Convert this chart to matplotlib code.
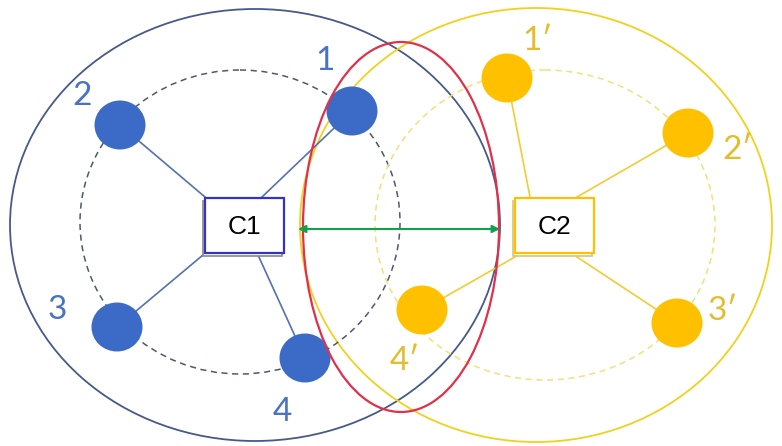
import matplotlib
matplotlib.use("Agg")
import matplotlib.pyplot as plt
from matplotlib.patches import Ellipse, Rectangle

# ---- data (pixel coordinates of the diagram) ----
blue_labels = ["1", "2", "3", "4"]
blue_node_x = [352, 120, 117, 305]
blue_node_y = [111, 125, 327, 358]
blue_label_x = [325, 82, 57, 282]
blue_label_y = [61, 96, 310, 412]
blue_anchor_x = [262, 205, 203, 258]
blue_anchor_y = [197, 197, 255, 255]

yellow_labels = ["1\u2032", "2\u2032", "3\u2032", "4\u2032"]
yellow_node_x = [507, 688, 677, 422]
yellow_node_y = [78, 133, 323, 310]
yellow_label_x = [537, 738, 723, 405]
yellow_label_y = [41, 150, 311, 361]
yellow_anchor_x = [530, 577, 577, 515]
yellow_anchor_y = [197, 197, 257, 257]

hub_names = ["C1", "C2"]
hub_x = [205, 515]
hub_y = [198, 198]
hub_w = [79, 79]
hub_h = [55, 55]

# big / dashed / red ellipses: (cx, cy, rx, ry)
blue_outer = (255, 225, 245, 216)
blue_inner = (240, 222, 160, 152)
yellow_outer = (536, 225, 236, 217)
yellow_inner = (545, 225, 170, 155)
red_ellipse = (401, 227, 98, 185)

arrow_x = [298, 500]
arrow_y = [229, 229]

# ---- colours ----
BLUE_OUT = "#46598a"
BLUE_DASH = "#4d586e"
BLUE_SPOKE = "#5572b0"
BLUE_NODE = "#3b6bc6"
BLUE_TXT = "#4a72c4"
YEL_OUT = "#efd21e"
YEL_DASH = "#efe27a"
YEL_SPOKE = "#f1cc35"
YEL_NODE = "#ffc000"
YEL_TXT = "#e2bd2e"
RED = "#e0304a"
GREEN = "#12a04e"

fig = plt.figure(figsize=(7.82, 4.46), dpi=100)
ax = fig.add_axes([0, 0, 1, 1])
ax.set_xlim(0, 782)
ax.set_ylim(446, 0)
ax.axis("off")


def ell(spec, color, lw, ls="-", z=1):
    cx, cy, rx, ry = spec
    ax.add_patch(Ellipse((cx, cy), 2 * rx, 2 * ry, fill=False, edgecolor=color,
                         lw=lw, ls=ls, zorder=z))


ell(blue_outer, BLUE_OUT, 1.3)
ell(yellow_outer, YEL_OUT, 1.3)
ell(blue_inner, BLUE_DASH, 1.1, ls=(0, (4, 3)))
ell(yellow_inner, YEL_DASH, 1.1, ls=(0, (4, 3)))

# spokes
for ax_, ay_, nx, ny in zip(blue_anchor_x, blue_anchor_y, blue_node_x, blue_node_y):
    ax.plot([ax_, nx], [ay_, ny], color=BLUE_SPOKE, lw=1.2, zorder=2)
for ax_, ay_, nx, ny in zip(yellow_anchor_x, yellow_anchor_y, yellow_node_x, yellow_node_y):
    ax.plot([ax_, nx], [ay_, ny], color=YEL_SPOKE, lw=1.2, zorder=2)

# nodes
for nx, ny in zip(blue_node_x, blue_node_y):
    ax.add_patch(Ellipse((nx, ny), 51, 49, facecolor=BLUE_NODE, edgecolor="none", zorder=3))
for nx, ny in zip(yellow_node_x, yellow_node_y):
    ax.add_patch(Ellipse((nx, ny), 51, 49, facecolor=YEL_NODE, edgecolor="none", zorder=3))

# red ellipse on top of nodes
ell(red_ellipse, RED, 1.6, z=4)

# hub boxes
box_cols = [("#3333cc", "#888888"), ("#ffc000", "#d9c27a")]
for name, x, y, w, h, (ec, sc) in zip(hub_names, hub_x, hub_y, hub_w, hub_h, box_cols):
    ax.add_patch(Rectangle((x - 2, y + 3), w, h, facecolor="white", edgecolor=sc,
                           lw=1.2, zorder=5))
    ax.add_patch(Rectangle((x, y), w, h, facecolor="white", edgecolor=ec,
                           lw=1.6, zorder=6))
    ax.text(x + w / 2, y + h / 2 + 1, name, ha="center", va="center",
            fontsize=19, family=["Liberation Sans", "DejaVu Sans"], color="black", zorder=7)

# green double arrow
ax.annotate("", xy=(arrow_x[1], arrow_y[1]), xytext=(arrow_x[0], arrow_y[0]),
            arrowprops=dict(arrowstyle="<|-|>", color=GREEN, lw=1.5,
                            mutation_scale=11, shrinkA=0, shrinkB=0), zorder=8)

# labels
for t, x, y in zip(blue_labels, blue_label_x, blue_label_y):
    ax.text(x, y, t, ha="center", va="center", fontsize=24, color=BLUE_TXT,
            family=["Lato", "DejaVu Sans"], zorder=9)
for t, x, y in zip(yellow_labels, yellow_label_x, yellow_label_y):
    ax.text(x, y, t, ha="center", va="center", fontsize=24, color=YEL_TXT,
            family=["Lato", "DejaVu Sans"], zorder=9)

fig.savefig("out.png", dpi=100)
